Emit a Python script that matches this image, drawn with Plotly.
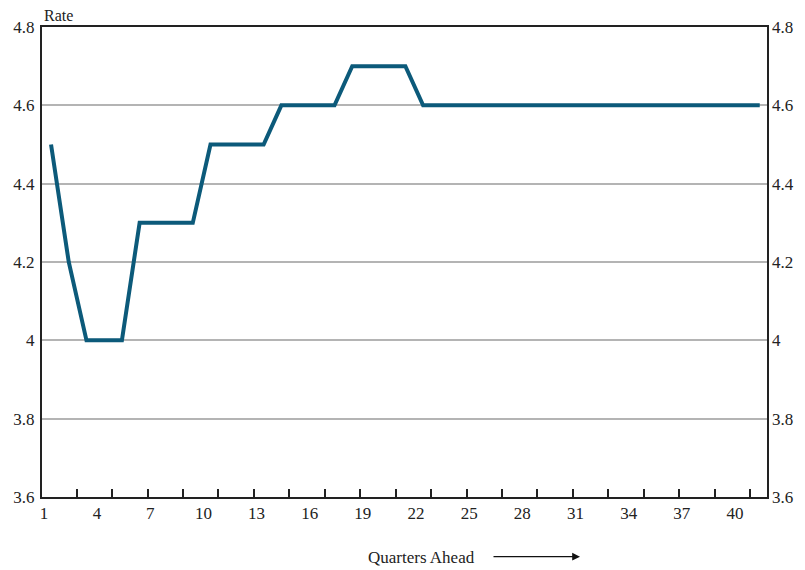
import plotly.graph_objects as go

quarters = list(range(1, 42))
rate = [4.5, 4.2, 4.0, 4.0, 4.0, 4.3, 4.3, 4.3, 4.3, 4.5,
        4.5, 4.5, 4.5, 4.6, 4.6, 4.6, 4.6, 4.7, 4.7, 4.7,
        4.7, 4.6] + [4.6] * 19

tick_labels = [str(v) for v in range(1, 41, 3)]
tick_positions = [v - 0.4 for v in range(1, 41, 3)]
y_ticks = [3.6, 3.8, 4.0, 4.2, 4.4, 4.6, 4.8]
y_labels = ["3.6", "3.8", "4", "4.2", "4.4", "4.6", "4.8"]

FONT = "Liberation Serif"

fig = go.Figure()
fig.add_trace(go.Scatter(x=quarters, y=rate, mode="lines",
                         line=dict(color="#0c5a7a", width=4),
                         showlegend=False, hoverinfo="skip"))
fig.add_trace(go.Scatter(x=quarters, y=rate, mode="lines", yaxis="y2",
                         line=dict(color="rgba(0,0,0,0)", width=0),
                         showlegend=False, hoverinfo="skip"))

fig.update_layout(
    width=805, height=570,
    margin=dict(l=42, r=38, t=27, b=73),
    paper_bgcolor="white", plot_bgcolor="white",
    font=dict(family=FONT, size=17, color="#222"),
    xaxis=dict(range=[0.49, 41.41], tickmode="array", tickvals=tick_positions,
               ticktext=tick_labels, ticks="", showgrid=False, zeroline=False,
               showline=True, linecolor="#222", linewidth=2, mirror=True,
               automargin=False,
               tickfont=dict(family=FONT, size=17, color="#222"),
               minor=dict(tick0=2.45, dtick=2, ticks="inside", ticklen=8,
                          tickwidth=1.5, tickcolor="#222", showgrid=False)),
    yaxis=dict(range=[3.6, 4.8], tickmode="array", tickvals=y_ticks,
               ticktext=y_labels, ticks="", showgrid=True,
               gridcolor="#b4b4b4", gridwidth=1.5, zeroline=False,
               showline=True, linecolor="#222", linewidth=2, mirror=True,
               automargin=False, ticklabelstandoff=2,
               tickfont=dict(family=FONT, size=17, color="#222")),
    yaxis2=dict(range=[3.6, 4.8], tickmode="array", tickvals=y_ticks,
                ticktext=y_labels, overlaying="y", side="right",
                showgrid=False, zeroline=False, showline=False, ticks="",
                automargin=False, ticklabelstandoff=4,
                tickfont=dict(family=FONT, size=17, color="#222")),
    annotations=[
        dict(text="Rate", xref="paper", yref="paper", x=0, y=1,
             xanchor="left", yanchor="bottom", yshift=1, showarrow=False,
             font=dict(family=FONT, size=16, color="#222")),
        dict(text="Quarters Ahead", xref="paper", yref="paper", x=0.524,
             y=-0.128, xanchor="center", yanchor="middle", showarrow=False,
             font=dict(family=FONT, size=17, color="#222")),
        dict(text="", xref="paper", yref="paper", x=(580 - 42) / 725,
             y=-0.127, axref="pixel", ayref="pixel", ax=-88, ay=0,
             showarrow=True, arrowhead=2, arrowsize=1.2, arrowwidth=1.3,
             arrowcolor="#111"),
    ],
)

fig.write_html("out.html",
               config={"displayModeBar": False},
               post_script="document.body.style.margin='0';document.body.style.padding='0';")
